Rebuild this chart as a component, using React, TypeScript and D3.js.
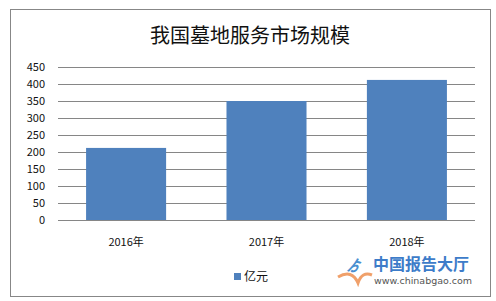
import * as d3 from "d3";

// chart data
const years = ["2016年", "2017年", "2018年"];
const values = [212, 350, 412];
const yTicks = [0, 50, 100, 150, 200, 250, 300, 350, 400, 450];
const seriesName = "亿元";

const W = 496;
const H = 301;
const margin = { left: 58, right: 21, top: 67, bottom: 81 };

const App = () => {
  const x = d3
    .scaleBand<string>()
    .domain(years)
    .range([margin.left, W - margin.right])
    .paddingInner(0.43)
    .paddingOuter(0.2);
  const y = d3
    .scaleLinear()
    .domain([0, 450])
    .range([H - margin.bottom, margin.top]);

  const font = "'Noto Sans CJK SC', 'DejaVu Sans', sans-serif";

  return (
    <svg
      width={W}
      height={H}
      style={{ position: "absolute", left: 0, top: 0, background: "#fff" }}
      fontFamily={font}
    >
      {/* outer frame */}
      <rect x={10.5} y={9.5} width={480} height={287} fill="#fff" stroke="#878787" />

      <text x={250} y={43} textAnchor="middle" fontSize={20} fill="#111">
        我国墓地服务市场规模
      </text>

      {/* gridlines + y labels */}
      {yTicks.map((t) => (
        <g key={t}>
          <line
            x1={margin.left}
            x2={W - margin.right}
            y1={Math.round(y(t)) + 0.5}
            y2={Math.round(y(t)) + 0.5}
            stroke="#868686"
          />
          <text
            x={45}
            y={y(t)}
            dy="0.35em"
            textAnchor="end"
            fontSize={11}
            fill="#111"
          >
            {t}
          </text>
        </g>
      ))}

      {/* bars */}
      {values.map((v, i) => (
        <rect
          key={years[i]}
          x={x(years[i])}
          y={y(v)}
          width={x.bandwidth()}
          height={y(0) - y(v)}
          fill="#4f81bd"
        />
      ))}

      {/* x labels */}
      {years.map((c) => (
        <text
          key={c}
          x={(x(c) ?? 0) + x.bandwidth() / 2}
          y={246}
          textAnchor="middle"
          fontSize={11}
          fill="#111"
        >
          {c}
        </text>
      ))}

      {/* legend */}
      <rect x={234} y={273} width={7} height={7} fill="#4f81bd" />
      <text x={244} y={281} fontSize={12} fill="#111">
        {seriesName}
      </text>

      {/* watermark */}
      <path d="M338,277 Q352,269 358,283 Q362,271 372,275" fill="none" stroke="#f0a06a" strokeWidth={3} />
      <text x={346} y={271} fontSize={15} fill="#4a8fd0" fontStyle="italic" fontWeight="bold">
        ゟ
      </text>
      <text x={373} y={270} fontSize={16} fill="#3d7cc9" fontWeight="bold">
        中国报告大厅
      </text>
      <text x={374} y={284} fontSize={9.5} fill="#555" fontFamily="'DejaVu Sans', sans-serif">
        www.chinabgao.com
      </text>
    </svg>
  );
};

export default App;
